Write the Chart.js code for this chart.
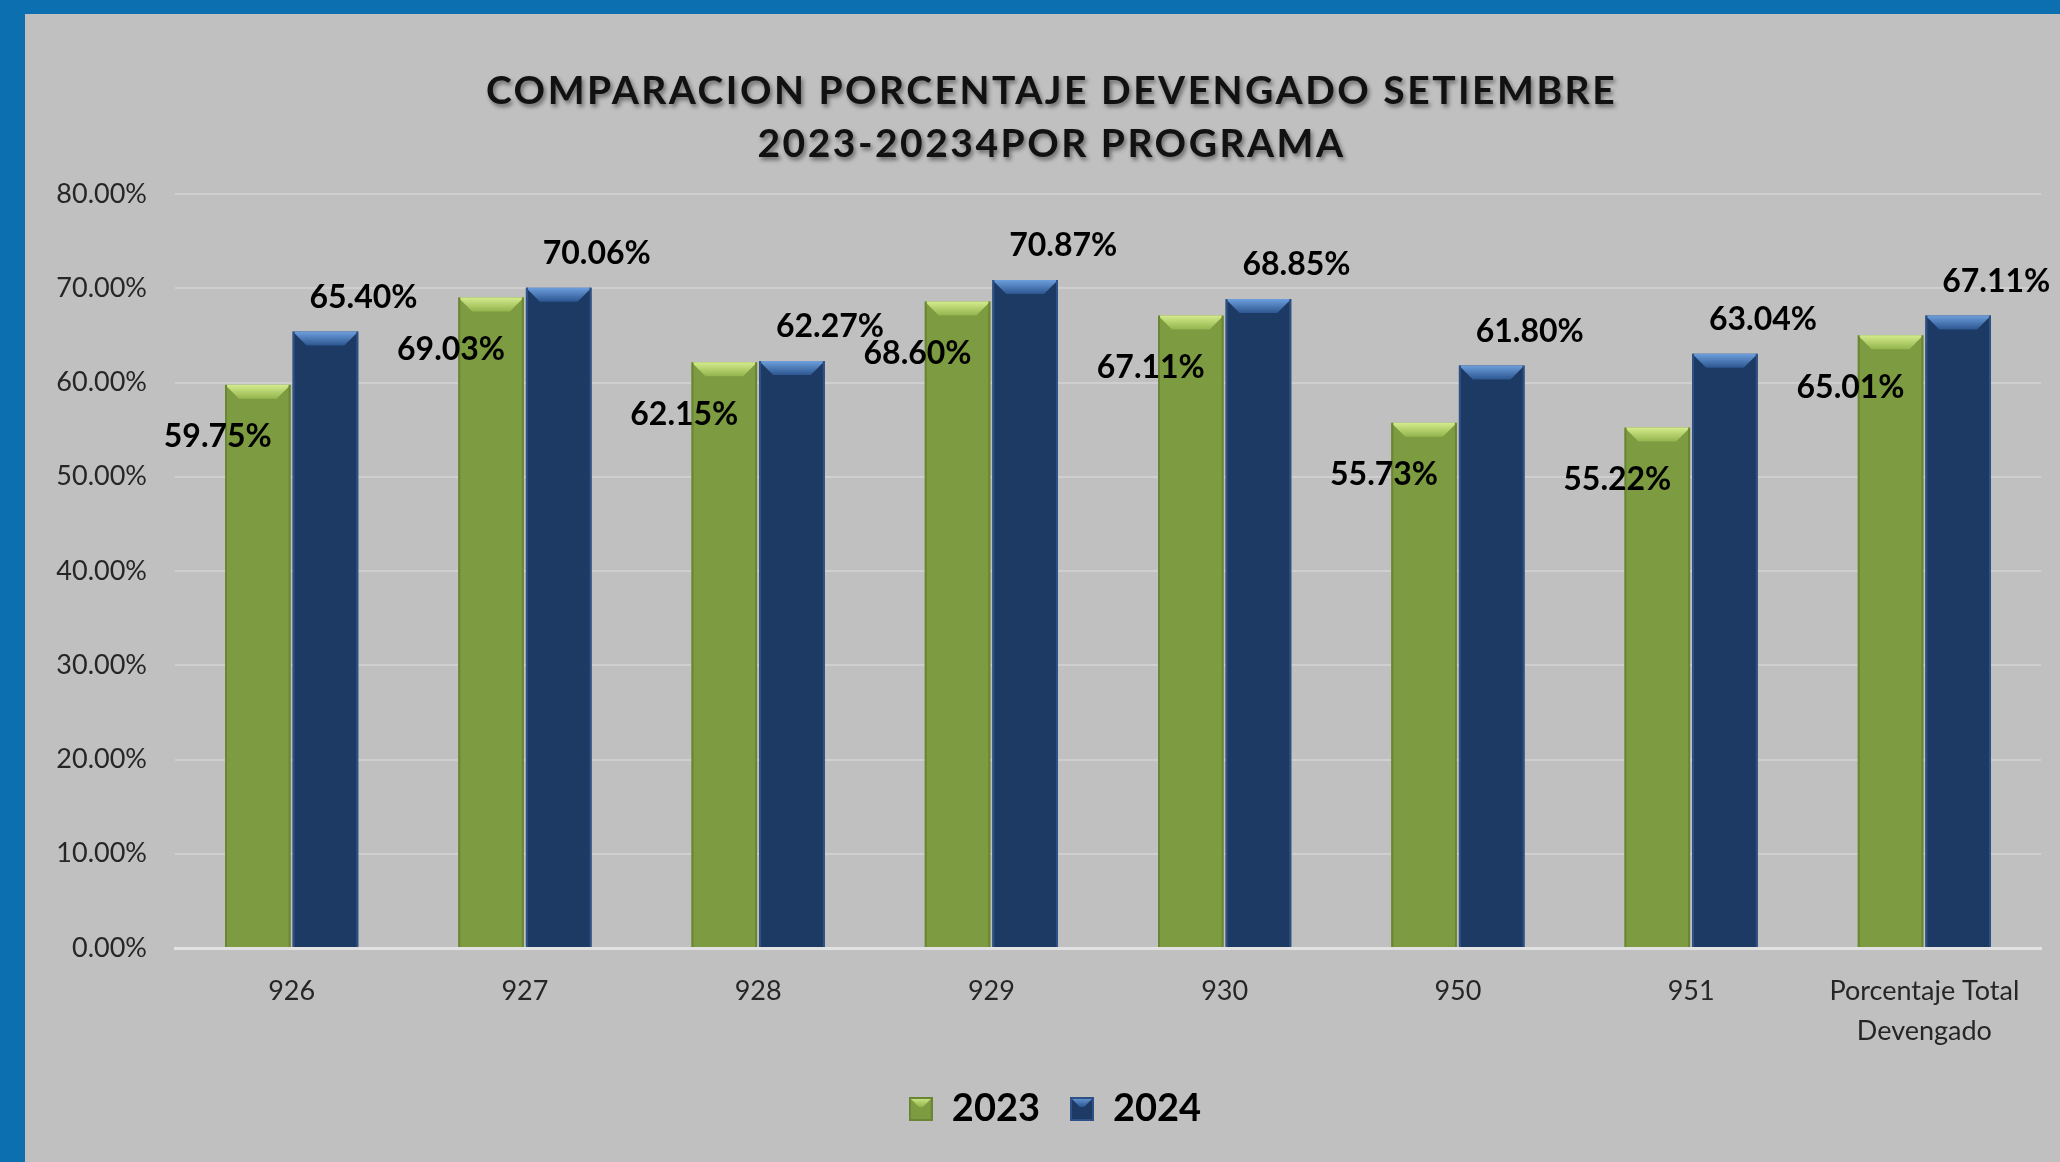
<!DOCTYPE html>
<html>
<head>
<meta charset="utf-8">
<title>Comparacion porcentaje devengado</title>
<script src="https://cdn.jsdelivr.net/npm/chart.js@4.4.1/dist/chart.umd.min.js"></script>
<style>
  html, body { margin: 0; padding: 0; background: #0b6fb0; overflow: hidden; }
  #wrap { position: absolute; left: 25px; top: 14px; width: 2035px; height: 1148px; background: #c0c0c0; }
</style>
</head>
<body>
<div id="wrap"><canvas id="chart"></canvas></div>
<script>
const categories = ['926', '927', '928', '929', '930', '950', '951', ['Porcentaje Total', 'Devengado']];
const values2023 = [59.75, 69.03, 62.15, 68.60, 67.11, 55.73, 55.22, 65.01];
const values2024 = [65.40, 70.06, 62.27, 70.87, 68.85, 61.80, 63.04, 67.11];
const seriesNames = ['2023', '2024'];
const yMax = 80;
const yStep = 10;
const titleLines = ['COMPARACION PORCENTAJE DEVENGADO SETIEMBRE', '2023-20234POR PROGRAMA'];

const FONT = 'Lato, "Open Sans", sans-serif';

const greenLook = { fill: '#7d9b40', top: '#d4ec8c', bottom: '#93b44e', side: '#6a8534' };
const blueLook = { fill: '#1c3a64', top: '#6d9fdc', bottom: '#2c5690', side: '#2d5184' };

// small bevelled square used as legend marker
function legendSwatch(look) {
  const c = document.createElement('canvas');
  c.width = 24; c.height = 24;
  const g = c.getContext('2d');
  g.fillStyle = look.fill;
  g.fillRect(0, 0, 24, 24);
  const grad = g.createLinearGradient(0, 0, 0, 10);
  grad.addColorStop(0, look.top);
  grad.addColorStop(1, look.bottom);
  g.fillStyle = grad;
  g.beginPath();
  g.moveTo(0, 0); g.lineTo(24, 0); g.lineTo(14, 10); g.lineTo(10, 10);
  g.closePath();
  g.fill();
  g.strokeStyle = look.side;
  g.lineWidth = 2;
  g.strokeRect(1, 1, 22, 22);
  return c;
}

// bevel look on top of each bar (Excel style)
const bevelPlugin = {
  id: 'bevel',
  afterDatasetsDraw(chart) {
    const ctx = chart.ctx;
    chart.data.datasets.forEach((ds, i) => {
      const meta = chart.getDatasetMeta(i);
      const bev = ds.look;
      meta.data.forEach(bar => {
        const { x, y, width, base } = bar.getProps(['x', 'y', 'width', 'base'], true);
        const l = x - width / 2, r = x + width / 2, b = 14;
        ctx.save();
        const g = ctx.createLinearGradient(0, y, 0, y + b);
        g.addColorStop(0, bev.top);
        g.addColorStop(1, bev.bottom);
        ctx.fillStyle = g;
        ctx.beginPath();
        ctx.moveTo(l, y);
        ctx.lineTo(r, y);
        ctx.lineTo(r - b, y + b);
        ctx.lineTo(l + b, y + b);
        ctx.closePath();
        ctx.fill();
        ctx.fillStyle = bev.side;
        ctx.fillRect(l, y, 2, base - y);
        ctx.fillRect(r - 2, y, 2, base - y);
        ctx.restore();
      });
    });
  }
};

const valueLabelPlugin = {
  id: 'valueLabels',
  afterDatasetsDraw(chart) {
    const ctx = chart.ctx;
    ctx.save();
    ctx.font = 'bold 32px ' + FONT;
    ctx.fillStyle = '#000000';
    ctx.textAlign = 'center';
    ctx.textBaseline = 'middle';
    chart.data.datasets.forEach((ds, i) => {
      const meta = chart.getDatasetMeta(i);
      meta.data.forEach((bar, j) => {
        const txt = ds.data[j].toFixed(2) + '%';
        ctx.fillText(txt, bar.x + ds.labelShift.dx, bar.y + ds.labelShift.dy);
      });
    });
    ctx.restore();
  }
};

const titlePlugin = {
  id: 'shadowTitle',
  afterDraw(chart) {
    const ctx = chart.ctx;
    ctx.save();
    ctx.font = 'bold 39px ' + FONT;
    ctx.letterSpacing = '2.5px';
    ctx.fillStyle = '#111111';
    ctx.textAlign = 'center';
    ctx.textBaseline = 'middle';
    ctx.shadowColor = 'rgba(0,0,0,0.45)';
    ctx.shadowOffsetX = 2;
    ctx.shadowOffsetY = 3;
    ctx.shadowBlur = 4;
    const cx = chart.width / 2 + 9;
    titleLines.forEach((line, k) => ctx.fillText(line, cx, 77 + k * 53));
    ctx.restore();
  }
};

// legend sits a bit right of the canvas centre in the original
const legendNudge = {
  id: 'legendNudge',
  afterLayout(chart) {
    if (chart.legend) {
      chart.legend.left += 22;
      chart.legend.right += 22;
    }
  }
};

const swatches = [legendSwatch(greenLook), legendSwatch(blueLook)];

const ctx = document.getElementById('chart').getContext('2d');
new Chart(ctx, {
  type: 'bar',
  data: {
    labels: categories,
    datasets: [
      {
        label: seriesNames[0],
        data: values2023,
        backgroundColor: greenLook.fill,
        categoryPercentage: 0.58,
        barPercentage: 0.97,
        look: greenLook,
        labelShift: { dx: -40, dy: 52 }
      },
      {
        label: seriesNames[1],
        data: values2024,
        backgroundColor: blueLook.fill,
        categoryPercentage: 0.58,
        barPercentage: 0.97,
        look: blueLook,
        labelShift: { dx: 38, dy: -34 }
      }
    ]
  },
  options: {
    responsive: true,
    maintainAspectRatio: false,
    animation: false,
    layout: { padding: { top: 180, right: 19, bottom: 24, left: 0 } },
    plugins: {
      title: { display: false },
      tooltip: { enabled: false },
      legend: {
        position: 'bottom',
        labels: {
          font: { family: FONT, size: 38, weight: 'bold' },
          color: '#000000',
          usePointStyle: true,
          boxWidth: 24,
          boxHeight: 24,
          padding: 30,
          generateLabels(chart) {
            const items = Chart.defaults.plugins.legend.labels.generateLabels(chart);
            items.forEach((it, k) => { it.pointStyle = swatches[k]; });
            return items;
          }
        }
      }
    },
    scales: {
      x: {
        grid: { display: false },
        border: { color: '#e2e2e2', width: 3 },
        ticks: {
          color: '#262626',
          font: { family: FONT, size: 27, lineHeight: 1.5 },
          padding: 15,
          maxRotation: 0,
          autoSkip: false
        },
        afterFit(scale) { scale.height = 112; }
      },
      y: {
        min: 0,
        max: yMax,
        border: { display: false },
        grid: { color: '#cfcfcf', lineWidth: 2, drawTicks: false },
        ticks: {
          stepSize: yStep,
          color: '#262626',
          font: { family: FONT, size: 27 },
          padding: 28,
          callback: v => v.toFixed(2) + '%'
        },
        afterFit(scale) { scale.width = 150; }
      }
    }
  },
  plugins: [bevelPlugin, valueLabelPlugin, titlePlugin, legendNudge]
});
</script>
</body>
</html>
